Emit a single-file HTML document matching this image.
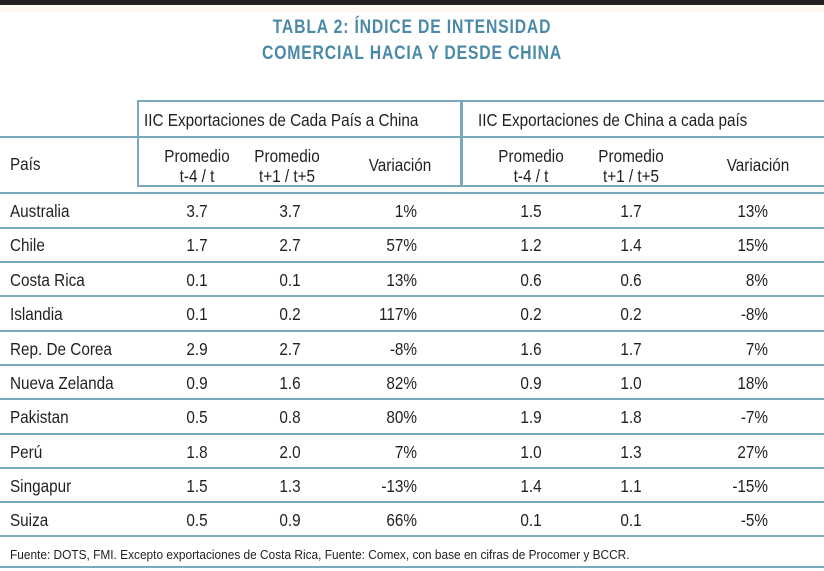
<!DOCTYPE html>
<html><head><meta charset="utf-8"><style>
html,body{margin:0;padding:0;background:#fff;}
svg{display:block;}
text{font-family:"Liberation Sans Narrow","Liberation Sans",sans-serif;font-size:18px;fill:#231f20;transform-box:fill-box;transform-origin:left center;transform:scaleX(.85);}
.t{font-weight:bold;font-size:19px;fill:#4a8aa8;letter-spacing:1px;transform:scaleX(.83);}
.c{text-anchor:middle;transform-origin:center center}.r{text-anchor:end;transform-origin:right center}
.f{font-size:12.5px;transform:scaleX(.95)}
</style></head><body>
<svg width="824" height="571" viewBox="0 0 824 571">
<rect x="0" y="0" width="824" height="5" fill="#231f20"/>
<rect x="0" y="5" width="824" height="7" fill="#fdf8f0"/>
<text class="t c" x="412" y="33">TABLA 2: ÍNDICE DE INTENSIDAD</text>
<text class="t c" x="412" y="59">COMERCIAL HACIA Y DESDE CHINA</text>
<g stroke="#7aa8bd" stroke-width="2" fill="none">
<rect x="138" y="101" width="323" height="85"/>
<path d="M462 101H825M462 101V186H825"/>
<path d="M0 137H824M0 193H824"/>
<path d="M0 228H824M0 262H824M0 296H824M0 331H824M0 365H824M0 399H824M0 434H824M0 468H824M0 502H824M0 536H824M0 567H824"/>
</g>
<text x="144" y="126">IIC Exportaciones de Cada País a China</text>
<text x="478" y="126">IIC Exportaciones de China a cada país</text>
<text x="10" y="170">País</text>
<text class="c" x="197" y="162">Promedio</text><text class="c" x="197" y="182">t-4 / t</text>
<text class="c" x="287" y="162">Promedio</text><text class="c" x="287" y="182">t+1 / t+5</text>
<text class="c" x="400" y="171">Variación</text>
<text class="c" x="531" y="162">Promedio</text><text class="c" x="531" y="182">t-4 / t</text>
<text class="c" x="631" y="162">Promedio</text><text class="c" x="631" y="182">t+1 / t+5</text>
<text class="c" x="758" y="171">Variación</text>
<g>
<text x="10" y="217">Australia</text><text class="c" x="197" y="217">3.7</text><text class="c" x="290" y="217">3.7</text><text class="r" x="417" y="217">1%</text><text class="c" x="531" y="217">1.5</text><text class="c" x="631" y="217">1.7</text><text class="r" x="768" y="217">13%</text>
<text x="10" y="251">Chile</text><text class="c" x="197" y="251">1.7</text><text class="c" x="290" y="251">2.7</text><text class="r" x="417" y="251">57%</text><text class="c" x="531" y="251">1.2</text><text class="c" x="631" y="251">1.4</text><text class="r" x="768" y="251">15%</text>
<text x="10" y="286">Costa Rica</text><text class="c" x="197" y="286">0.1</text><text class="c" x="290" y="286">0.1</text><text class="r" x="417" y="286">13%</text><text class="c" x="531" y="286">0.6</text><text class="c" x="631" y="286">0.6</text><text class="r" x="768" y="286">8%</text>
<text x="10" y="320">Islandia</text><text class="c" x="197" y="320">0.1</text><text class="c" x="290" y="320">0.2</text><text class="r" x="417" y="320">117%</text><text class="c" x="531" y="320">0.2</text><text class="c" x="631" y="320">0.2</text><text class="r" x="768" y="320">-8%</text>
<text x="10" y="355">Rep. De Corea</text><text class="c" x="197" y="355">2.9</text><text class="c" x="290" y="355">2.7</text><text class="r" x="417" y="355">-8%</text><text class="c" x="531" y="355">1.6</text><text class="c" x="631" y="355">1.7</text><text class="r" x="768" y="355">7%</text>
<text x="10" y="389">Nueva Zelanda</text><text class="c" x="197" y="389">0.9</text><text class="c" x="290" y="389">1.6</text><text class="r" x="417" y="389">82%</text><text class="c" x="531" y="389">0.9</text><text class="c" x="631" y="389">1.0</text><text class="r" x="768" y="389">18%</text>
<text x="10" y="423">Pakistan</text><text class="c" x="197" y="423">0.5</text><text class="c" x="290" y="423">0.8</text><text class="r" x="417" y="423">80%</text><text class="c" x="531" y="423">1.9</text><text class="c" x="631" y="423">1.8</text><text class="r" x="768" y="423">-7%</text>
<text x="10" y="458">Perú</text><text class="c" x="197" y="458">1.8</text><text class="c" x="290" y="458">2.0</text><text class="r" x="417" y="458">7%</text><text class="c" x="531" y="458">1.0</text><text class="c" x="631" y="458">1.3</text><text class="r" x="768" y="458">27%</text>
<text x="10" y="492">Singapur</text><text class="c" x="197" y="492">1.5</text><text class="c" x="290" y="492">1.3</text><text class="r" x="417" y="492">-13%</text><text class="c" x="531" y="492">1.4</text><text class="c" x="631" y="492">1.1</text><text class="r" x="768" y="492">-15%</text>
<text x="10" y="526">Suiza</text><text class="c" x="197" y="526">0.5</text><text class="c" x="290" y="526">0.9</text><text class="r" x="417" y="526">66%</text><text class="c" x="531" y="526">0.1</text><text class="c" x="631" y="526">0.1</text><text class="r" x="768" y="526">-5%</text>
</g>
<text class="f" x="10" y="559">Fuente: DOTS, FMI. Excepto exportaciones de Costa Rica, Fuente: Comex, con base en cifras de Procomer y BCCR.</text>
</svg>
</body></html>
